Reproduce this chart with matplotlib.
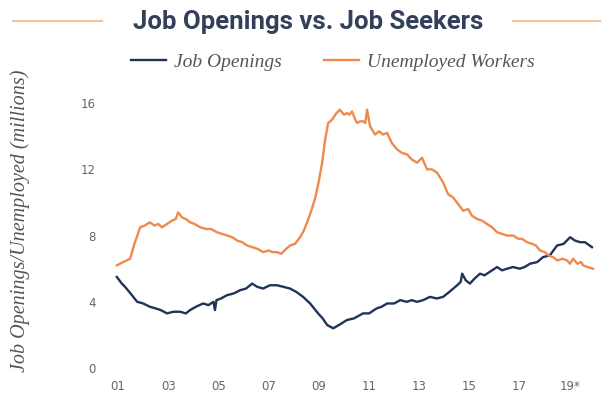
# Job openings vs. job seekers chart
import matplotlib.pyplot as plt
from matplotlib.lines import Line2D

# Data (millions)
unemp_years = [2000.95, 2001.2, 2001.48, 2001.65, 2001.88, 2002.05, 2002.27, 2002.45, 2002.6,
               2002.75, 2002.95, 2003.15, 2003.3, 2003.39, 2003.55, 2003.7, 2003.87, 2004.05,
               2004.27, 2004.5, 2004.7, 2004.94, 2005.15, 2005.35, 2005.55, 2005.74, 2005.95,
               2006.14, 2006.35, 2006.55, 2006.78, 2007.0, 2007.15, 2007.33, 2007.5, 2007.7,
               2007.85, 2008.05, 2008.25, 2008.4, 2008.53, 2008.7, 2008.86, 2009.0, 2009.13,
               2009.25, 2009.37, 2009.53, 2009.7, 2009.84, 2010.0, 2010.12, 2010.22, 2010.32,
               2010.45, 2010.52, 2010.65, 2010.76, 2010.85, 2010.92, 2011.04, 2011.24, 2011.4,
               2011.55, 2011.72, 2011.9, 2012.12, 2012.3, 2012.51, 2012.7, 2012.91, 2013.11,
               2013.31, 2013.5, 2013.71, 2013.95, 2014.15, 2014.35, 2014.55, 2014.75, 2014.95,
               2015.1, 2015.3, 2015.5, 2015.7, 2015.9, 2016.1, 2016.3, 2016.5, 2016.74, 2016.95,
               2017.1, 2017.29, 2017.5, 2017.65, 2017.81, 2018.0, 2018.15, 2018.33, 2018.5,
               2018.7, 2018.89, 2019.0, 2019.13, 2019.3, 2019.45, 2019.53, 2019.7, 2019.92]
unemployed = [6.2, 6.4, 6.6, 7.5, 8.5, 8.6, 8.8, 8.6, 8.7, 8.5, 8.7, 8.9, 9.0, 9.4, 9.1,
              9.0, 8.8, 8.7, 8.5, 8.4, 8.4, 8.2, 8.1, 8.0, 7.9, 7.7, 7.6, 7.4, 7.3, 7.2, 7.0,
              7.1, 7.0, 7.0, 6.9, 7.2, 7.4, 7.5, 7.9, 8.3, 8.8, 9.5, 10.3, 11.3, 12.4, 13.8,
              14.8, 15.0, 15.4, 15.6, 15.3, 15.4, 15.3, 15.5, 15.0, 14.8, 14.9, 14.9, 14.8,
              15.6, 14.6, 14.1, 14.3, 14.1, 14.2, 13.6, 13.2, 13.0, 12.9, 12.6, 12.4, 12.7,
              12.0, 12.0, 11.8, 11.2, 10.5, 10.3, 9.9, 9.5, 9.6, 9.2, 9.0, 8.9, 8.7, 8.5,
              8.2, 8.1, 8.0, 8.0, 7.8, 7.8, 7.6, 7.5, 7.4, 7.1, 7.0, 6.8, 6.7, 6.5, 6.6,
              6.5, 6.3, 6.6, 6.3, 6.4, 6.2, 6.1, 6.0]

open_years = [2000.95, 2001.15, 2001.28, 2001.5, 2001.76, 2002.0, 2002.27, 2002.5, 2002.7,
              2002.95, 2003.2, 2003.47, 2003.7, 2003.87, 2004.1, 2004.39, 2004.6, 2004.8,
              2004.86, 2004.92, 2005.1, 2005.34, 2005.6, 2005.86, 2006.1, 2006.34, 2006.55,
              2006.78, 2007.05, 2007.33, 2007.6, 2007.85, 2008.1, 2008.37, 2008.65, 2008.97,
              2009.15, 2009.33, 2009.57, 2009.8, 2010.12, 2010.4, 2010.76, 2011.0, 2011.3,
              2011.5, 2011.72, 2012.0, 2012.24, 2012.5, 2012.7, 2012.91, 2013.15, 2013.43,
              2013.7, 2013.95, 2014.2, 2014.51, 2014.65, 2014.71, 2014.85, 2015.02, 2015.2,
              2015.42, 2015.6, 2015.8, 2016.1, 2016.3, 2016.5, 2016.74, 2017.0, 2017.2,
              2017.41, 2017.7, 2017.93, 2018.2, 2018.49, 2018.75, 2019.01, 2019.2, 2019.41,
              2019.6, 2019.88]
openings = [5.5, 5.1, 4.9, 4.5, 4.0, 3.9, 3.7, 3.6, 3.5, 3.3, 3.4, 3.4, 3.3, 3.5, 3.7, 3.9,
            3.8, 4.0, 3.5, 4.1, 4.2, 4.4, 4.5, 4.7, 4.8, 5.1, 4.9, 4.8, 5.0, 5.0, 4.9, 4.8,
            4.6, 4.3, 3.9, 3.3, 3.0, 2.6, 2.4, 2.6, 2.9, 3.0, 3.3, 3.3, 3.6, 3.7, 3.9, 3.9,
            4.1, 4.0, 4.1, 4.0, 4.1, 4.3, 4.2, 4.3, 4.6, 5.0, 5.2, 5.7, 5.3, 5.1, 5.4,
            5.7, 5.6, 5.8, 6.1, 5.9, 6.0, 6.1, 6.0, 6.1, 6.3, 6.4, 6.7, 6.8, 7.4, 7.5,
            7.9, 7.7, 7.6, 7.6, 7.3]

tick_years = [2001, 2003, 2005, 2007, 2009, 2011, 2013, 2015, 2017, 2019]
tick_labels = ["01", "03", "05", "07", "09", "11", "13", "15", "17", "19*"]
y_ticks = [0, 4, 8, 12, 16]

blue = "#1f3457"
orange = "#ef8a4c"
grey = "#666666"

fig = plt.figure(figsize=(6.05, 4.04), dpi=100)
ax = fig.add_axes([0.1653, 0.0685, 0.8264, 0.6968])

ax.plot(open_years, openings, color=blue, lw=1.7, label="Job Openings")
ax.plot(unemp_years, unemployed, color=orange, lw=1.7, label="Unemployed Workers")

ax.set_xlim(2000.28, 2020.2)
ax.set_ylim(-0.5, 16.5)
ax.set_xticks(tick_years)
ax.set_xticklabels(tick_labels)
ax.set_yticks(y_ticks)
ax.tick_params(length=0, labelsize=8.5, labelcolor=grey, pad=3)
for s in ax.spines.values():
    s.set_visible(False)

fig.text(20 / 605, 1 - 221 / 404, "Job Openings/Unemployed (millions)", rotation=90,
         ha="center", va="center", family="Liberation Serif", style="italic",
         fontsize=14.5, color="#555555")

# Title with orange rules either side
fig.text(308 / 605, 1 - 22 / 404, "Job Openings vs. Job Seekers", ha="center", va="center",
         family="Roboto", weight="bold", fontsize=18.5, color="#34405a")
fig.add_artist(Line2D([13 / 605, 102 / 605], [1 - 21 / 404] * 2, color="#f5c39b", lw=1.5))
fig.add_artist(Line2D([513 / 605, 600 / 605], [1 - 21 / 404] * 2, color="#f5c39b", lw=1.5))

fig.legend(loc="center", bbox_to_anchor=(333 / 605, 1 - 62 / 404), ncol=2, frameon=False,
           handlelength=1.8, handletextpad=0.4, columnspacing=2.2,
           prop={"family": "Liberation Serif", "style": "italic", "size": 14})
for t in fig.legends[0].get_texts():
    t.set_color("#555555")

plt.savefig("out.png", dpi=100)
